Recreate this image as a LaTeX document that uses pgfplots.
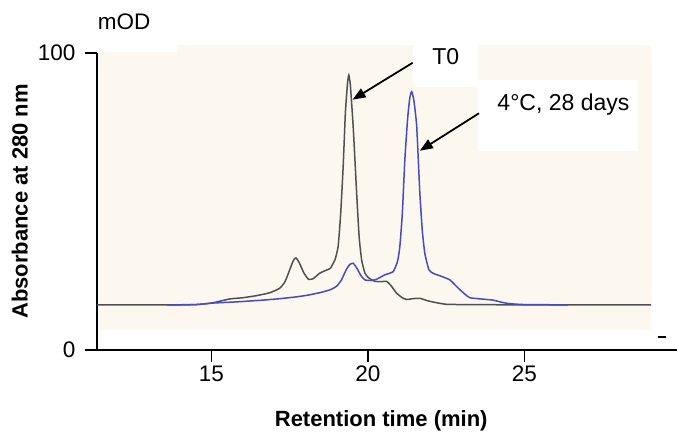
\documentclass[border=0pt]{standalone}
\usepackage{fontspec}
\setmainfont{Liberation Sans}
\usepackage{pgfplots}
\pgfplotsset{compat=1.18}
\usetikzlibrary{arrows.meta}

\definecolor{bgbeige}{RGB}{252,248,240}
\definecolor{tzero}{RGB}{80,80,80}
\definecolor{aged}{RGB}{72,74,192}

\begin{document}
\begin{tikzpicture}[x=1pt,y=1pt]
\path[use as bounding box] (-97,-94) rectangle (580,350);
\begin{axis}[
    at={(0,0)}, anchor=south west,
    scale only axis, width=580pt, height=297pt,
    xmin=11.34, xmax=29.88, ymin=0, ymax=100,
    axis x line=bottom, axis y line=left,
    axis line style={-, line width=1.3pt, black},
    xtick={15,20,25}, ytick={0,100},
    tick align=outside, major tick length=12pt,
    tick style={black, line width=1.3pt},
    ticklabel style={font=\fontsize{22.5}{26}\selectfont},
    yticklabel style={xshift=-6pt},
    /pgf/number format/assume math mode=true,
    xlabel={Retention time (min)},
    ylabel={Absorbance at 280 nm},
    label style={font=\fontsize{22}{26}\selectfont\bfseries},
    xlabel style={at={(axis description cs:0.49,-0.239)}, anchor=center},
    ylabel style={at={(axis description cs:-0.133,0.5)}, anchor=center},
    clip=false,
]
% background panel and the white patches behind the labels
\fill[bgbeige] (axis cs:11.43,6.73) rectangle (axis cs:29.05,102.7);
\fill[white] (axis cs:11.43,100.3) rectangle (axis cs:13.93,102.8);
\fill[white] (axis cs:21.44,88.6) rectangle (axis cs:23.52,102.8);
\fill[white] (axis cs:23.52,67.0) rectangle (axis cs:28.64,90.9);

% T0
\addplot[tzero, line width=1.5pt, smooth, tension=0.3] coordinates {
(11.34,15.2) (14.0,15.2) (14.52,15.3) (15.0,15.8) (15.59,17.2) (16.0,17.6)
(16.44,18.3) (16.87,19.3) (17.18,20.8) (17.35,23.0) (17.5,27.0) (17.62,30.2)
(17.70,31.0) (17.8,29.5) (17.95,26.0) (18.1,23.8) (18.25,24.0) (18.45,25.8)
(18.65,26.8) (18.8,27.5) (18.95,30.5) (19.05,35.0) (19.13,46.0) (19.21,62.0)
(19.28,80.0) (19.35,90.0) (19.39,92.6) (19.44,89.0) (19.53,75.0) (19.64,52.8)
(19.72,38.0) (19.80,30.3) (19.9,26.0) (20.0,24.5) (20.2,23.2) (20.4,23.0)
(20.6,23.1) (20.75,21.5) (20.92,19.1) (21.1,17.6) (21.24,17.0) (21.45,17.3)
(21.66,17.4) (21.9,16.6) (22.2,15.9) (22.5,15.4) (23.0,15.3) (25.0,15.2)
(29.05,15.2)
};
% 4 C, 28 days
\addplot[aged, line width=1.5pt, smooth, tension=0.3] coordinates {
(13.57,15.2) (14.5,15.3) (15.04,15.8) (15.8,16.2) (16.65,16.8) (17.2,17.3)
(17.72,17.9) (18.1,18.5) (18.46,19.3) (18.8,20.3) (19.0,21.5) (19.15,23.5)
(19.3,26.9) (19.42,28.8) (19.53,29.2) (19.65,27.5) (19.78,25.0) (19.9,23.6)
(20.1,23.4) (20.27,23.8) (20.54,25.3) (20.81,26.4) (20.95,30.0) (21.02,34.8)
(21.1,46.0) (21.18,64.0) (21.27,78.0) (21.34,85.0) (21.40,87.0) (21.47,84.0)
(21.56,75.2) (21.66,52.8) (21.74,40.0) (21.82,32.5) (21.95,27.0) (22.09,25.8)
(22.3,25.0) (22.62,23.6) (22.89,20.8) (23.1,18.8) (23.26,17.6) (23.6,17.2)
(24.0,16.8) (24.3,16.0) (24.54,15.6) (25.0,15.3) (26.4,15.2)
};

\draw[line width=1.8pt, -{Triangle[length=13pt,width=10pt]}]
  (axis cs:21.43,96.7) -- (axis cs:19.51,84.3);
\draw[line width=1.8pt, -{Triangle[length=13pt,width=10pt]}]
  (axis cs:23.55,79.7) -- (axis cs:21.66,67.1);

\node[anchor=base, font=\fontsize{23}{26}\selectfont] at (axis cs:22.49,96.0) {T0};
\node[anchor=base, font=\fontsize{23}{26}\selectfont] at (axis cs:26.25,80.8) {4°C, 28 days};
\node[anchor=base west, font=\fontsize{22.5}{26}\selectfont, inner sep=0pt] at (axis cs:11.36,108.0) {mOD};
\draw[line width=1.3pt] (axis cs:29.27,4.4) -- (axis cs:29.53,4.4);
\end{axis}
\end{tikzpicture}
\end{document}
